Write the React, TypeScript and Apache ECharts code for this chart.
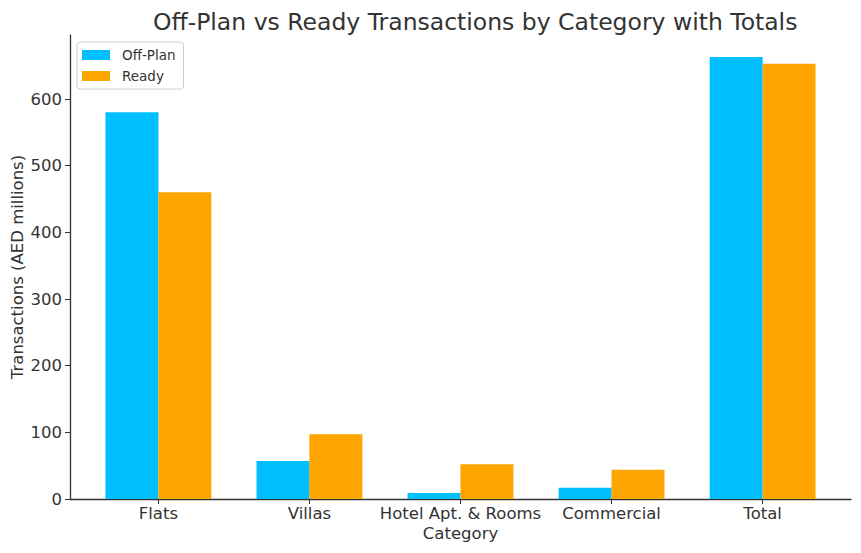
import React, { useEffect, useRef } from "react";
import * as echarts from "echarts";

const categories = ["Flats", "Villas", "Hotel Apt. & Rooms", "Commercial", "Total"];
const offPlan = [580, 57, 9, 17, 663];
const ready = [460, 97, 52, 44, 653];
const yTicks = [0, 100, 200, 300, 400, 500, 600];
const xTicks = [0, 1, 2, 3, 4];

const FONT = "DejaVu Sans";
const TEXT = "#333333";

export default function App() {
  const ref = useRef<HTMLDivElement>(null);
  useEffect(() => {
    document.body.style.margin = "0";
    const chart = echarts.init(ref.current!, null, { renderer: "svg" });
    const off = 0.175;
    chart.setOption({
      animation: false,
      backgroundColor: "#ffffff",
      textStyle: { fontFamily: FONT, color: TEXT },
      title: {
        text: "Off-Plan vs Ready Transactions by Category with Totals",
        left: 148,
        top: 5,
        textStyle: { fontFamily: FONT, fontSize: 23.5, fontWeight: "normal", color: TEXT },
      },
      legend: {
        orient: "vertical",
        left: 77,
        top: 42,
        padding: [6, 8, 6, 5],
        itemWidth: 28,
        itemHeight: 10,
        itemGap: 7,
        borderColor: "#d0d0d0",
        borderWidth: 1,
        borderRadius: 3,
        backgroundColor: "#ffffff",
        textStyle: { fontFamily: FONT, fontSize: 13.5, color: TEXT, padding: [0, 0, 0, 7] },
        data: [
          { name: "Off-Plan", icon: "rect" },
          { name: "Ready", icon: "rect" },
        ],
      },
      grid: { left: 70, right: 10, top: 35, bottom: 54, outerBoundsMode: "none", containLabel: false },
      xAxis: {
        type: "value",
        min: -0.585,
        max: 4.585,
        name: "Category",
        nameLocation: "middle",
        nameGap: 26,
        nameMoveOverlap: false,
        nameTextStyle: { fontFamily: FONT, fontSize: 16.5, color: TEXT },
        axisLine: { show: true, onZero: false, lineStyle: { color: "#333333", width: 1.3 } },
        axisTick: { show: true, length: 5, inside: false, customValues: xTicks, lineStyle: { color: "#333333" } },
        axisLabel: {
          customValues: xTicks,
          margin: 6,
          fontFamily: FONT,
          fontSize: 16.5,
          color: TEXT,
          formatter: (v: number) => categories[Math.round(v)] ?? "",
        },
        splitLine: { show: false },
      },
      yAxis: {
        type: "value",
        min: 0,
        max: 696,
        name: "Transactions (AED millions)",
        nameLocation: "middle",
        nameGap: 44,
        nameMoveOverlap: false,
        nameTextStyle: { fontFamily: FONT, fontSize: 16.5, color: TEXT },
        axisLine: { show: true, onZero: false, lineStyle: { color: "#333333", width: 1.3 } },
        axisTick: { show: true, length: 5, inside: false, customValues: yTicks, lineStyle: { color: "#333333" } },
        axisLabel: { customValues: yTicks, margin: 8, fontFamily: FONT, fontSize: 16.5, color: TEXT },
        splitLine: { show: false },
      },
      series: [
        {
          name: "Off-Plan",
          type: "bar",
          barWidth: 53,
          barGap: "-100%",
          itemStyle: { color: "#00BFFF" },
          data: offPlan.map((v, i) => [i - off, v]),
        },
        {
          name: "Ready",
          type: "bar",
          barWidth: 53,
          barGap: "-100%",
          itemStyle: { color: "#FFA500" },
          data: ready.map((v, i) => [i + off, v]),
        },
      ],
    });
    return () => chart.dispose();
  }, []);
  return <div ref={ref} style={{ width: 861, height: 553 }} />;
}
